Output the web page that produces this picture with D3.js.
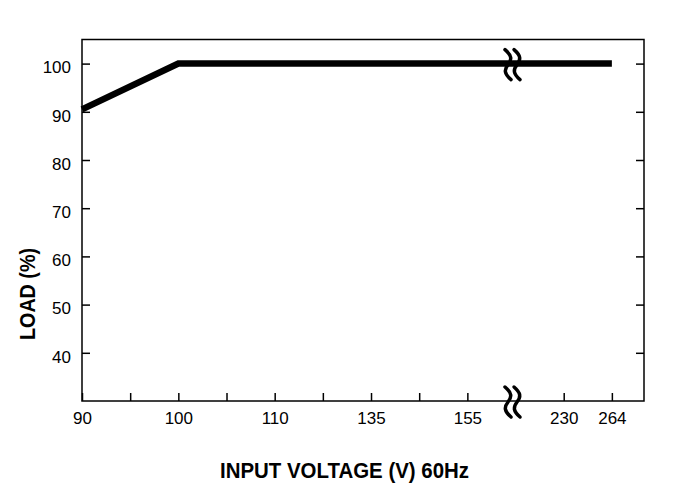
<!DOCTYPE html>
<html><head><meta charset="utf-8">
<script src="https://cdn.jsdelivr.net/npm/d3@7"></script>
<style>
html,body{margin:0;padding:0;background:#fff;}
text{font-family:"Liberation Sans",Arial,sans-serif;fill:#000;}
</style></head>
<body>
<svg id="chart" width="679" height="497"></svg>
<script>
// ---- data ----
const xTickLabels = ["90","100","110","135","155","230","264"];
const xTickValues = [90,100,110,135,155,230,264];
const yTickValues = [40,50,60,70,80,90,100];
const lineVoltage = [90,100,264];
const lineLoad = [90.5,100,100];
const xTitle = "INPUT VOLTAGE (V) 60Hz";
const yTitle = "LOAD (%)";

// ---- layout ----
const W = 679, H = 497;
const m = {left:82, top:39.5, right:644, bottom:401};
const svg = d3.select("#chart");

// slot positions (layout): major ticks every 2 slots, axis break at slot 9
const slots = [0,2,4,6,8,10,11];
const slotScale = d3.scaleLinear().domain([0,11.667]).range([m.left,m.right]);
const x = d3.scaleLinear().domain(xTickValues).range(slots.map(s=>slotScale(s)));
const y = d3.scaleLinear().domain([30,105]).range([m.bottom,m.top]);

const fs = 17;
// bottom axis
const gx = svg.append("g").attr("transform",`translate(0,${m.bottom})`)
  .call(d3.axisBottom(x).tickValues(xTickValues).tickFormat((d,i)=>xTickLabels[i]).tickSize(-8).tickPadding(11));
// minor ticks on bottom
const gxm = svg.append("g").attr("transform",`translate(0,${m.bottom})`)
  .call(d3.axisBottom(slotScale).tickValues([1,3,5,7]).tickFormat("").tickSize(-8));
// left axis
const gy = svg.append("g").attr("transform",`translate(${m.left},0)`)
  .call(d3.axisLeft(y).tickValues(yTickValues).tickSize(-8).tickPadding(11));
// right axis
const gr = svg.append("g").attr("transform",`translate(${m.right},0)`)
  .call(d3.axisRight(y).tickValues(yTickValues).tickFormat("").tickSize(-8));

[gx,gxm,gy,gr].forEach(g=>{
  g.select(".domain").remove();
  g.selectAll(".tick line").attr("stroke","#000").attr("stroke-width",1.5);
  g.selectAll("text").attr("font-size",fs).attr("font-family","Liberation Sans, Arial, sans-serif").attr("fill","#000");
});
gy.selectAll("text").attr("dy","0.55em");

// frame
svg.append("rect").attr("x",m.left).attr("y",m.top)
  .attr("width",m.right-m.left).attr("height",m.bottom-m.top)
  .attr("fill","none").attr("stroke","#000").attr("stroke-width",1.5);

// data line
const pts = lineVoltage.map((v,i)=>[x(v),y(lineLoad[i])]);
svg.append("path").attr("d",d3.line()(pts))
  .attr("fill","none").attr("stroke","#000").attr("stroke-width",6.5)
  .attr("stroke-linejoin","miter").attr("stroke-linecap","butt");

// axis break symbols
function breakMark(cx, cy){
  const g = svg.append("g");
  [-4.5,4.5].forEach(off=>{
    const c = cx+off, top = cy-15, bot = cy+15;
    g.append("path")
      .attr("d",`M${c-3},${top} C${c+4},${top+6} ${c+4},${cy-5} ${c},${cy} C${c-4},${cy+5} ${c-4},${bot-6} ${c+3},${bot}`)
      .attr("fill","none").attr("stroke","#000").attr("stroke-width",3.5).attr("stroke-linecap","round");
  });
}
const bx = slotScale(9)-3;
breakMark(bx, y(100)+1);
breakMark(bx, m.bottom+1);

// titles
svg.append("text").attr("x",344.5).attr("y",478).attr("text-anchor","middle")
  .attr("font-size",22).attr("font-weight","bold")
  .attr("textLength",249).attr("lengthAdjust","spacingAndGlyphs").text(xTitle);
svg.append("text").attr("transform","translate(35,294) rotate(-90)").attr("text-anchor","middle")
  .attr("font-size",22).attr("font-weight","bold")
  .attr("textLength",92).attr("lengthAdjust","spacingAndGlyphs").text(yTitle);
</script>
</body></html>
